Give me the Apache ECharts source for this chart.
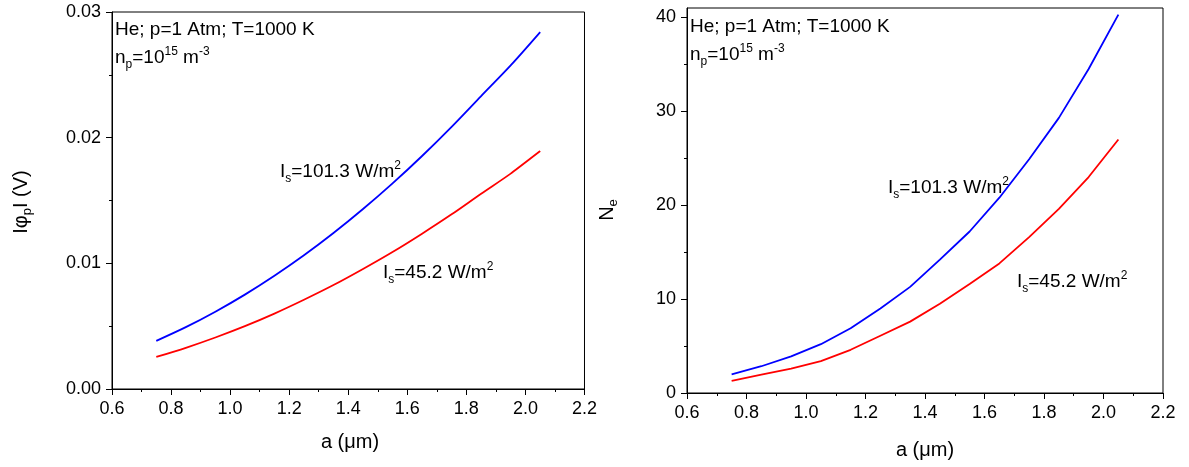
<!DOCTYPE html>
<html>
<head>
<meta charset="utf-8">
<script src="https://cdn.jsdelivr.net/npm/echarts@6/dist/echarts.min.js"></script>
<style>
html,body{margin:0;padding:0;background:#fff;}
#wrap{position:relative;width:1189px;height:467px;}
#left{position:absolute;left:0;top:0;width:600px;height:467px;}
#right{position:absolute;left:600px;top:0;width:589px;height:467px;}
#over{position:absolute;left:0;top:0;width:1189px;height:467px;pointer-events:none;}
</style>
</head>
<body>
<div id="wrap"><div id="left"></div><div id="right"></div><div id="over"></div></div>
<script>
// ---- data ----
const aValues = [0.75, 0.85, 0.95, 1.05, 1.15, 1.25, 1.35, 1.45, 1.55, 1.65, 1.75, 1.85, 1.95, 2.05];
const phiHigh = [0.00383, 0.00492, 0.00615, 0.00751, 0.00901, 0.01064, 0.01241, 0.01432, 0.01636, 0.01854, 0.02086, 0.02331, 0.02575, 0.02840];
const phiLow  = [0.00255, 0.00328, 0.00410, 0.00500, 0.00600, 0.00710, 0.00827, 0.00955, 0.01090, 0.01236, 0.01390, 0.01554, 0.01714, 0.01894];
const neHigh  = [1.99, 2.85, 3.9, 5.2, 6.9, 9.0, 11.3, 14.2, 17.2, 20.8, 24.9, 29.3, 34.5, 40.3];
const neLow   = [1.3, 1.95, 2.6, 3.4, 4.6, 6.1, 7.6, 9.5, 11.6, 13.8, 16.6, 19.6, 23.0, 27.0];
// ---- ticks ----
const xTicks = [0.6, 0.8, 1.0, 1.2, 1.4, 1.6, 1.8, 2.0, 2.2];
const xMinor = [0.7, 0.9, 1.1, 1.3, 1.5, 1.7, 1.9, 2.1];
const phiTicks = [0, 0.01, 0.02, 0.03];
const phiMinor = [0.005, 0.015, 0.025];
const neTicks = [0, 10, 20, 30, 40];
const neMinor = [5, 15, 25, 35];

const FONT = 'Liberation Sans, Arial, sans-serif';
const pair = (xs, ys) => xs.map((x, i) => [x, ys[i]]);

function labelAxis(kind, min, max, values, fmt) {
  return {
    type: 'value', min, max, position: kind === 'x' ? 'bottom' : 'left', offset: 0,
    axisLine: { show: true, onZero: false, lineStyle: { color: '#000', width: 1 } },
    axisTick: { show: false },
    splitLine: { show: false },
    axisLabel: { show: true, color: '#000', fontFamily: FONT, fontSize: 18, margin: 11,
      customValues: values, formatter: fmt }
  };
}
function tickAxis(kind, min, max, values, len) {
  return {
    type: 'value', min, max, position: kind === 'x' ? 'bottom' : 'left', offset: 0,
    axisLine: { show: false, onZero: false },
    axisTick: { show: true, length: len, customValues: values, lineStyle: { color: '#000', width: 1 } },
    splitLine: { show: false },
    axisLabel: { show: false }
  };
}
function panel(grid, yMax, yTicks, yMinor, yFmt, hi, lo, smooth) {
  return {
    animation: false,
    backgroundColor: '#fff',
    grid: [Object.assign({ show: true, borderColor: '#000', borderWidth: 1, backgroundColor: 'transparent' }, grid)],
    xAxis: [
      labelAxis('x', 0.6, 2.2, xTicks, v => v.toFixed(1)),
      tickAxis('x', 0.6, 2.2, xTicks, 6),
      tickAxis('x', 0.6, 2.2, xMinor, 3)
    ],
    yAxis: [
      labelAxis('y', 0, yMax, yTicks, yFmt),
      tickAxis('y', 0, yMax, yTicks, 6),
      tickAxis('y', 0, yMax, yMinor, 3)
    ],
    series: [
      { type: 'line', xAxisIndex: 0, yAxisIndex: 0, data: pair(aValues, hi), smooth, showSymbol: false, lineStyle: { color: '#0000ff', width: 1.8 } },
      { type: 'line', xAxisIndex: 0, yAxisIndex: 0, data: pair(aValues, lo), smooth, showSymbol: false, lineStyle: { color: '#ff0000', width: 1.8 } }
    ]
  };
}

const leftChart = echarts.init(document.getElementById('left'), null, { renderer: 'canvas' });
leftChart.setOption(panel({ left: 112, top: 12, width: 474, height: 377 }, 0.03, phiTicks, phiMinor, v => v.toFixed(2), phiHigh, phiLow, 0.3));
const rightChart = echarts.init(document.getElementById('right'), null, { renderer: 'canvas' });
rightChart.setOption(panel({ left: 87, top: 8, width: 476, height: 385 }, 41, neTicks, neMinor, v => String(v), neHigh, neLow, false));

// ---- text overlay ----
function makeRich(big, small) {
  return {
    n: { fontSize: big, fontFamily: FONT, color: '#000', lineHeight: big + 6, verticalAlign: 'middle' },
    sub: { fontSize: small, fontFamily: FONT, color: '#000', lineHeight: small, verticalAlign: 'bottom' },
    sup: { fontSize: small, fontFamily: FONT, color: '#000', lineHeight: small, verticalAlign: 'top' }
  };
}
const richAnn = makeRich(19, 12);
const richTitle = makeRich(20, 13);
function rtext(x, y, text, rich, align, rotation) {
  return {
    type: 'text', x, y, rotation: rotation || 0,
    style: { text, rich, fontFamily: FONT, fill: '#000', textAlign: align || 'left', textVerticalAlign: 'middle' }
  };
}
const condLine1 = '{n|He; p=1 Atm; T=1000 K}';
const condLine2 = '{n|n}{sub|p}{n|=10}{sup|15}{n| m}{sup|-3}';
const lblHigh = '{n|I}{sub|s}{n|=101.3 W/m}{sup|2}';
const lblLow = '{n|I}{sub|s}{n|=45.2 W/m}{sup|2}';

const overChart = echarts.init(document.getElementById('over'), null, { renderer: 'canvas' });
overChart.setOption({
  animation: false,
  backgroundColor: 'transparent',
  graphic: [
    rtext(115, 30, condLine1, richAnn),
    rtext(115, 58, condLine2, richAnn),
    rtext(280, 172, lblHigh, richAnn),
    rtext(383, 273, lblLow, richAnn),
    rtext(690, 27, condLine1, richAnn),
    rtext(690, 55, condLine2, richAnn),
    rtext(888, 188, lblHigh, richAnn),
    rtext(1017, 282, lblLow, richAnn),
    rtext(350, 442, '{n|a (μm)}', richTitle, 'center'),
    rtext(925, 450, '{n|a (μm)}', richTitle, 'center'),
    rtext(21, 202, '{n|Iφ}{sub|p}{n|I (V)}', richTitle, 'center', Math.PI / 2),
    rtext(607, 210, '{n|N}{sub|e}', richTitle, 'center', Math.PI / 2)
  ]
});
</script>
</body>
</html>
